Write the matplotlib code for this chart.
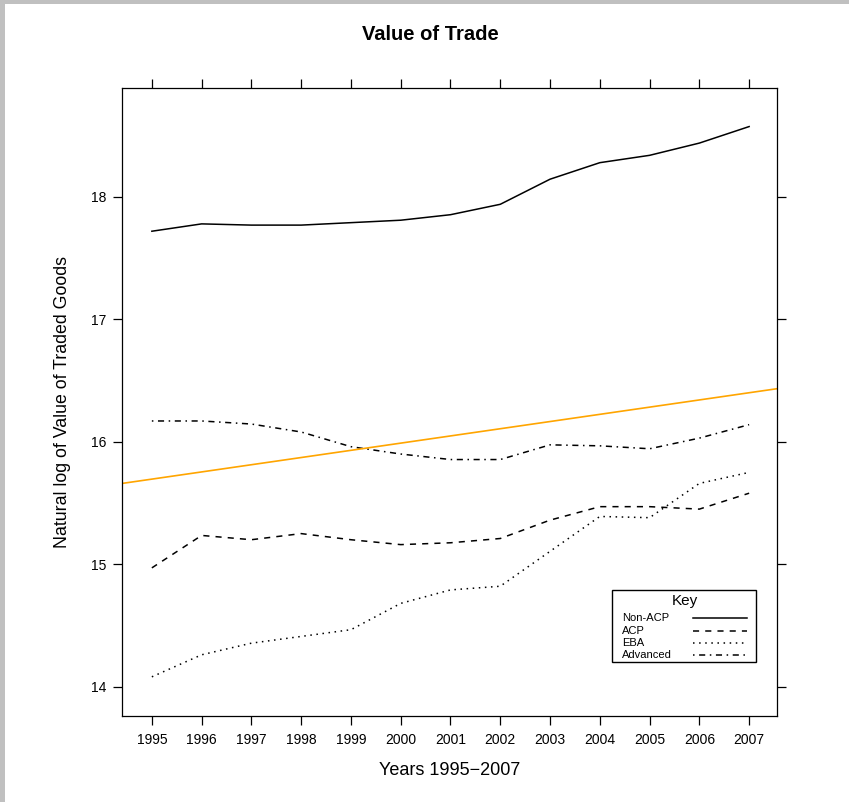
import matplotlib
matplotlib.use("Agg")
import matplotlib.pyplot as plt
from matplotlib.patches import Rectangle

plt.rcParams['font.family'] = ['Liberation Sans', 'DejaVu Sans']

# data
years = [1995, 1996, 1997, 1998, 1999, 2000, 2001, 2002, 2003, 2004, 2005, 2006, 2007]
non_acp = [17.72, 17.78, 17.77, 17.77, 17.79, 17.81, 17.855, 17.94, 18.145, 18.28, 18.34, 18.44, 18.575]
acp = [14.97, 15.235, 15.20, 15.25, 15.20, 15.16, 15.175, 15.21, 15.36, 15.47, 15.47, 15.45, 15.58]
eba = [14.08, 14.26, 14.355, 14.41, 14.465, 14.68, 14.79, 14.82, 15.105, 15.39, 15.38, 15.66, 15.75]
advanced = [16.17, 16.17, 16.145, 16.08, 15.96, 15.90, 15.855, 15.855, 15.975, 15.967, 15.943, 16.03, 16.14]

# reference line (intercept at 1995, slope per year)
ref_intercept = 15.695
ref_slope = 0.0588

series = [("Non-ACP", non_acp, "-"),
          ("ACP", acp, (0, (4, 4))),
          ("EBA", eba, (0, (1, 3))),
          ("Advanced", advanced, (0, (1, 3, 4, 3)))]

W, H = 849, 802
fig = plt.figure(figsize=(W / 100, H / 100), dpi=100)

# gray frame on top and left edges
fig.patches.append(Rectangle((0, 1 - 4 / H), 1, 4 / H, transform=fig.transFigure,
                             facecolor="#c0c0c0", edgecolor="none"))
fig.patches.append(Rectangle((0, 0), 5 / W, 1, transform=fig.transFigure,
                             facecolor="#c0c0c0", edgecolor="none"))

# panel box in pixels
L, R, T, B = 122, 777, 88, 716
ax = fig.add_axes([L / W, 1 - B / H, (R - L) / W, (B - T) / H])


def axpos(px, py):
    return (px - L) / (R - L), 1 - (py - T) / (B - T)


for name, vals, ls in series:
    ax.plot(years, vals, color="black", linestyle=ls, linewidth=1.1, label=name)

ax.axline((years[0], ref_intercept), slope=ref_slope, color="#FFA500", linewidth=1.2)

ax.set_xlim(1994.4, 2007.56)
ax.set_ylim(13.76, 18.89)
ax.set_xticks(years)
ax.set_yticks([14, 15, 16, 17, 18])

for s in ax.spines.values():
    s.set_linewidth(0.9)
    s.set_color("black")
ax.tick_params(axis="both", direction="out", length=6.5, width=0.9, labelsize=10,
               top=True, right=True, labeltop=False, labelright=False)
ax.tick_params(axis="x", pad=6)
ax.tick_params(axis="y", pad=5)

ax.set_xlabel("Years 1995\u22122007", fontsize=13)
ax.xaxis.set_label_coords(0.5, -0.086)
ax.xaxis.label.set_va("center")
ax.set_ylabel("Natural log of Value of Traded Goods", fontsize=12.8)
ax.yaxis.set_label_coords(-0.0916, 0.5)
ax.yaxis.label.set_va("center")

fig.text(430 / W, 1 - 35 / H, "Value of Trade", fontsize=14.5, fontweight="bold",
         ha="center", va="center")

# key box drawn like the lattice key: labels left, line samples right
x0, y0 = axpos(612, 590)
x1, y1 = axpos(756, 662)
ax.add_patch(Rectangle((x0, y1), x1 - x0, y0 - y1, transform=ax.transAxes,
                       facecolor="white", edgecolor="black", linewidth=1.0, zorder=5))
kx, ky = axpos(685, 601)
ax.text(kx, ky, "Key", transform=ax.transAxes, fontsize=11, ha="center", va="center", zorder=6)
row_y = [618, 630.5, 643, 655]
for (name, vals, ls), ry in zip(series, row_y):
    tx, ty = axpos(622, ry)
    ax.text(tx, ty, name, transform=ax.transAxes, fontsize=8, ha="left", va="center", zorder=6)
    lx0, ly = axpos(693, ry)
    lx1, _ = axpos(747, ry)
    ax.plot([lx0, lx1], [ly, ly], transform=ax.transAxes, color="black", linestyle=ls,
            linewidth=1.1, zorder=6)

fig.savefig("out.png", dpi=100)
